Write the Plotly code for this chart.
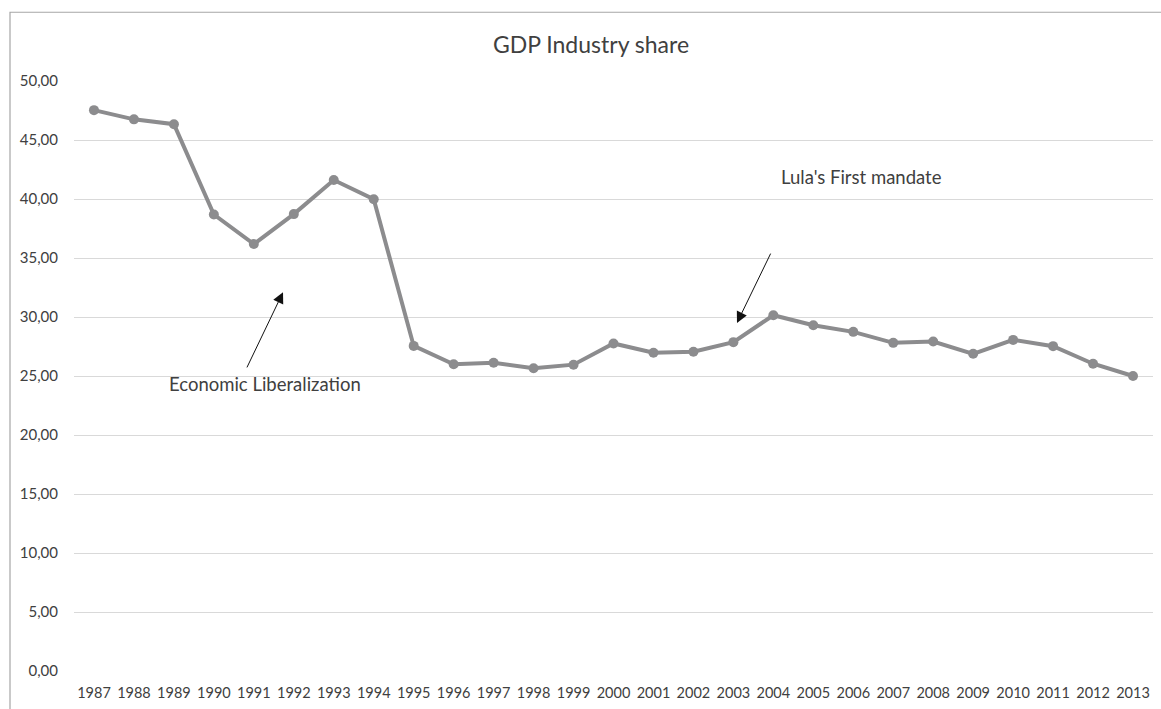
import plotly.graph_objects as go

years = list(range(1987, 2014))
industry_share = [47.53, 46.75, 46.34, 38.68, 36.18, 38.72, 41.61, 39.98, 27.55, 25.99,
                  26.13, 25.65, 25.96, 27.76, 26.97, 27.05, 27.87, 30.15, 29.30, 28.74,
                  27.81, 27.92, 26.88, 28.06, 27.53, 26.04, 25.00]
y_ticks = [0, 5, 10, 15, 20, 25, 30, 35, 40, 45, 50]
y_tick_labels = ["0,00", "5,00", "10,00", "15,00", "20,00", "25,00", "30,00", "35,00", "40,00", "45,00", "50,00"]

W, H = 1161, 709
L, R, T, B = 74, 8, 81, 36
FONT = "Lato, Carlito, Calibri, sans-serif"
TXT = "#404040"

fig = go.Figure()
fig.add_trace(go.Scatter(
    x=years, y=industry_share, mode="lines+markers",
    line=dict(color="#8c8c8e", width=4),
    marker=dict(color="#8c8c8e", size=10),
    showlegend=False, hoverinfo="x+y",
))

pw, ph = W - L - R, H - T - B
def px(x):
    return (x - L) / pw
def py(y):
    return (H - B - y) / ph

fig.update_layout(
    width=W, height=H,
    margin=dict(l=L, r=R, t=T, b=B, pad=0),
    paper_bgcolor="white", plot_bgcolor="white",
    font=dict(family=FONT, color=TXT, size=14),
    title=dict(text="GDP Industry share", x=591 / W, xref="container", xanchor="center",
               y=1 - 45 / H, yref="container", yanchor="middle",
               font=dict(size=23, color=TXT, family=FONT)),
    xaxis=dict(range=[1986.5, 2013.5], tickvals=years, ticktext=[str(y) for y in years],
               showgrid=False, zeroline=False, showline=False, ticks="", ticklabelstandoff=11,
               tickfont=dict(size=14.5, color=TXT)),
    yaxis=dict(range=[0, 50], tickvals=y_ticks, ticktext=y_tick_labels,
               showgrid=True, gridcolor="#d9d9d9", gridwidth=1, zeroline=False,
               showline=False, ticks="", ticklabelstandoff=15,
               tickfont=dict(size=15, color=TXT)),
    shapes=[dict(type="rect", xref="paper", yref="paper",
                 x0=px(10), x1=px(W + 20), y0=py(12), y1=py(H + 20),
                 line=dict(color="#a6a6a6", width=1.2), fillcolor="rgba(0,0,0,0)", layer="below")],
    annotations=[
        dict(x=1991.73, y=32.1, ax=1990.81, ay=25.6, axref="x", ayref="y", xref="x", yref="y",
             text="", showarrow=True, arrowhead=2, arrowsize=2.2, arrowwidth=1, arrowcolor="#111111",
             standoff=0, startstandoff=0),
        dict(x=1991.27, y=24.3, xref="x", yref="y", text="Economic Liberalization", showarrow=False,
             font=dict(size=18.5, color=TXT, family=FONT), xanchor="center", yanchor="middle"),
        dict(x=2003.09, y=29.5, ax=2003.95, ay=35.5, axref="x", ayref="y", xref="x", yref="y",
             text="", showarrow=True, arrowhead=2, arrowsize=2.2, arrowwidth=1, arrowcolor="#111111",
             standoff=0, startstandoff=0),
        dict(x=2006.2, y=41.9, xref="x", yref="y", text="Lula's First mandate", showarrow=False,
             font=dict(size=18.5, color=TXT, family=FONT), xanchor="center", yanchor="middle"),
    ],
)

fig.write_html("out.html")
